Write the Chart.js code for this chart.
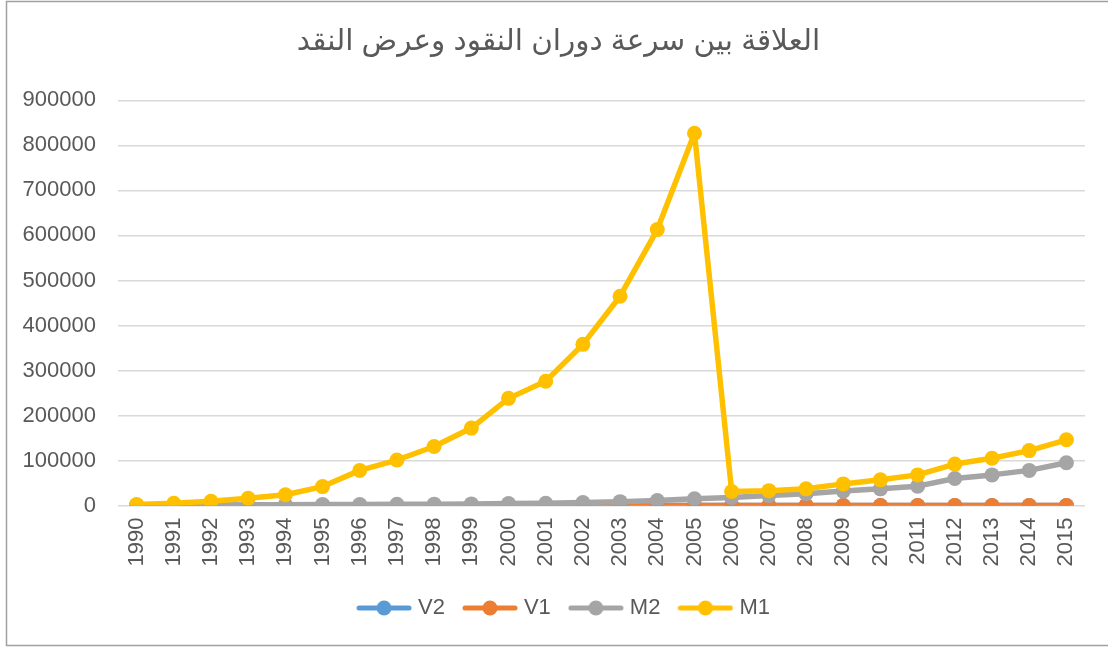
<!DOCTYPE html>
<html>
<head>
<meta charset="utf-8">
<script src="https://cdn.jsdelivr.net/npm/chart.js"></script>
<style>
  html, body { margin:0; padding:0; background:#fff; }
  #wrap { position:relative; width:1108px; height:647px; }
</style>
</head>
<body>
<div id="wrap"><canvas id="myChart" width="1108" height="647"></canvas></div>
<script>
  var years = ["1990","1991","1992","1993","1994","1995","1996","1997","1998","1999","2000","2001","2002",
               "2003","2004","2005","2006","2007","2008","2009","2010","2011","2012","2013","2014","2015"];
  var yTicks = [0,100000,200000,300000,400000,500000,600000,700000,800000,900000];

  // values
  var V2 = [3,3,3,4,4,4,4,5,5,5,5,5,5,5,5,5,4,4,4,4,4,4,4,4,4,4];
  var V1 = [2,2,2,3,3,3,3,3,3,3,3,3,3,3,3,3,2,2,2,2,2,2,2,2,2,2];
  var M2 = [800,1000,1200,1500,1800,2000,2300,2700,3000,3500,4200,5000,6500,8500,11000,15000,
            18000,22000,26000,32000,37000,43000,60000,68000,78000,95000];
  var M1 = [2000,5000,9500,16000,24000,42000,78000,101000,131000,172000,238000,276000,358000,
            465000,613000,827000,31000,33000,37000,48000,57000,68000,92000,105000,122000,146000];

  var textColor = "#595959";
  var fontFam = "'Liberation Sans', Arial, 'DejaVu Sans', sans-serif";

  // legend marker: short line with a dot, like the spreadsheet legend
  function legendMark(color)
  {
    var c = document.createElement("canvas");
    c.width = 56; c.height = 18;
    var g = c.getContext("2d");
    g.strokeStyle = color; g.lineWidth = 5; g.lineCap = "round";
    g.beginPath(); g.moveTo(3, 9); g.lineTo(53, 9); g.stroke();
    g.fillStyle = color;
    g.beginPath(); g.arc(28, 9, 7.5, 0, Math.PI*2); g.fill();
    return c;
  }

  function makeSet(label, data, color, order)
  {
    return {label:label, data:data, borderColor:color, backgroundColor:color,
            borderWidth:5.5, borderJoinStyle:"round", borderCapStyle:"round",
            pointRadius:7.5, pointHoverRadius:7.5, pointBorderWidth:0,
            pointBackgroundColor:color, tension:0, order:order,
            pointStyle:"circle", legendMark:legendMark(color)};
  }

  // outer frame + nudge title/legend so they centre over the plot like the original
  var frame = {
    id:"frame",
    beforeDraw: function(chart) {
      if (chart.titleBlock) chart.titleBlock.left += 32;
      if (chart.legend) chart.legend.left += 46;
    },
    afterDraw: function(chart) {
      var ctx = chart.ctx;
      ctx.save();
      ctx.strokeStyle = "#a0a0a0";
      ctx.lineWidth = 1.5;
      ctx.strokeRect(6.5, 1.5, 1120, 644);
      ctx.restore();
    }
  };

  var ctx = document.getElementById("myChart");
  new Chart(ctx, {
    type: "line",
    data: {
      labels: years,
      datasets: [
        makeSet("V2", V2, "#5b9bd5", 3),
        makeSet("V1", V1, "#ed7d31", 2),
        makeSet("M2", M2, "#a5a5a5", 1),
        makeSet("M1", M1, "#ffc000", 0)
      ]
    },
    plugins: [frame],
    options: {
      responsive: false,
      animation: false,
      layout: { padding: { left: 0, right: 23, top: 0, bottom: 18 } },
      plugins: {
        tooltip: { enabled:false },
        title: {
          display: true,
          text: "العلاقة بين سرعة دوران النقود وعرض النقد",
          color: textColor,
          font: { family: fontFam, size: 29.5, weight: "normal" },
          padding: { top: 24, bottom: 41 }
        },
        legend: {
          position: "bottom",
          labels: {
            color: textColor,
            font: { family: fontFam, size: 22 },
            usePointStyle: true,
            pointStyleWidth: 46,
            padding: 22,
            sort: function(a, b) { return a.datasetIndex - b.datasetIndex; },
            generateLabels: function(chart) {
              return chart.data.datasets.map(function(ds, i) {
                return { text: ds.label, fillStyle: ds.borderColor, strokeStyle: ds.borderColor,
                         lineWidth: 0, pointStyle: ds.legendMark, datasetIndex: i,
                         fontColor: textColor, hidden: false };
              });
            }
          }
        }
      },
      scales: {
        x: {
          offset: true,
          grid: { display: false, drawTicks: false },
          border: { display: false },
          ticks: { color: textColor, font: { family: fontFam, size: 22 },
                   maxRotation: 90, minRotation: 90, padding: 12, autoSkip: false },
          afterFit: function(s) { s.height = 69.5; }
        },
        y: {
          min: 0, max: 900000,
          afterBuildTicks: function(s) { s.ticks = yTicks.map(function(v){ return {value:v}; }); },
          grid: { color: "#d9d9d9", lineWidth: 1.5, drawTicks: false },
          border: { display: false },
          ticks: { color: textColor, font: { family: fontFam, size: 22 }, padding: 22,
                   callback: function(v) { return String(v); } },
          afterFit: function(s) { s.width = 118; }
        }
      }
    }
  });
</script>
</body>
</html>
